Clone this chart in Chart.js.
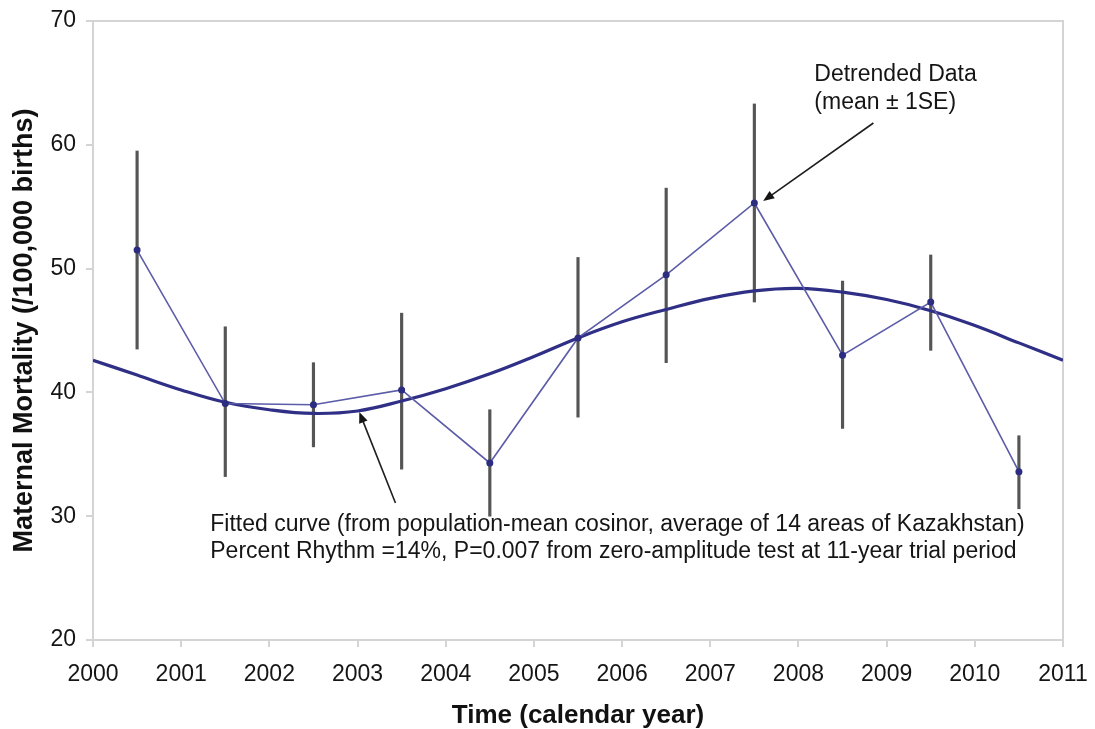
<!DOCTYPE html>
<html lang="en">
<head>
    <meta charset="UTF-8">
    <title>Maternal Mortality, Kazakhstan</title>
    <script src="https://cdn.jsdelivr.net/npm/chart.js"></script>
    <style>
        html, body { margin: 0; padding: 0; background: #fff; }
        #wrap { width: 1095px; height: 729px; }
    </style>
</head>
<body>
    <div id="wrap"><canvas id="chart" width="1095" height="729"></canvas></div>
    <script>
        // detrended data (mean +/- 1SE), plotted at mid-year
        const years = [2000.5, 2001.5, 2002.5, 2003.5, 2004.5, 2005.5, 2006.5, 2007.5, 2008.5, 2009.5, 2010.5];
        const meanValues = [51.5, 39.1, 39.0, 40.2, 34.3, 44.4, 49.5, 55.3, 43.0, 47.3, 33.6];
        const seLow = [43.5, 33.2, 35.6, 33.8, 30.0, 38.0, 42.4, 47.3, 37.1, 43.4, 30.6];
        const seHigh = [59.5, 45.3, 42.4, 46.4, 38.6, 50.9, 56.5, 63.3, 49.0, 51.1, 36.5];

        const curveYears = [2000, 2000.5, 2001, 2001.5, 2002, 2002.5, 2003, 2003.5, 2004, 2004.5, 2005, 2005.5,
                            2006, 2006.5, 2007, 2007.5, 2008, 2008.5, 2009, 2009.5, 2010, 2010.5, 2011];
        const curveValues = [42.6, 41.4, 40.2, 39.2, 38.6, 38.3, 38.5, 39.3, 40.3, 41.5, 42.9, 44.4,
                             45.7, 46.7, 47.6, 48.2, 48.4, 48.1, 47.5, 46.6, 45.4, 44.0, 42.6];

        const xTicks = [2000, 2001, 2002, 2003, 2004, 2005, 2006, 2007, 2008, 2009, 2010, 2011];
        const yTicks = [20, 30, 40, 50, 60, 70];

        const FONT = "'Liberation Sans', Arial, Helvetica, sans-serif";
        const AXIS_GRAY = '#d4d4d4';
        const INK = '#151515';

        // light box round the plot area (left/bottom come from the axes)
        const framePlugin = {
            id: 'frame',
            beforeDatasetsDraw(chart) {
                const { ctx, chartArea: a } = chart;
                ctx.save();
                ctx.strokeStyle = AXIS_GRAY;
                ctx.lineWidth = 2;
                ctx.beginPath();
                ctx.moveTo(a.left, a.top);
                ctx.lineTo(a.right, a.top);
                ctx.lineTo(a.right, a.bottom);
                ctx.stroke();
                ctx.restore();
            }
        };

        function arrow(ctx, x1, y1, x2, y2) {
            const ang = Math.atan2(y2 - y1, x2 - x1);
            const len = 11, half = 4.5;
            ctx.beginPath();
            ctx.moveTo(x1, y1);
            ctx.lineTo(x2 - Math.cos(ang) * len * 0.7, y2 - Math.sin(ang) * len * 0.7);
            ctx.stroke();
            ctx.beginPath();
            ctx.moveTo(x2, y2);
            ctx.lineTo(x2 - Math.cos(ang) * len + Math.sin(ang) * half, y2 - Math.sin(ang) * len - Math.cos(ang) * half);
            ctx.lineTo(x2 - Math.cos(ang) * len - Math.sin(ang) * half, y2 - Math.sin(ang) * len + Math.cos(ang) * half);
            ctx.closePath();
            ctx.fill();
        }

        const notesPlugin = {
            id: 'notes',
            afterDraw(chart) {
                const { ctx } = chart;
                const x = chart.scales.x, y = chart.scales.y;
                const px = v => x.getPixelForValue(v), py = v => y.getPixelForValue(v);
                ctx.save();
                ctx.fillStyle = INK;
                ctx.strokeStyle = '#1e1e1e';
                ctx.font = '23px ' + FONT;
                ctx.textBaseline = 'middle';
                ctx.textAlign = 'left';
                ctx.fillText('Detrended Data', px(2008.18), py(65.64));
                ctx.fillText('(mean \u00b1 1SE)', px(2008.18), py(63.38));
                ctx.fillText('Fitted curve (from population-mean cosinor, average of 14 areas of Kazakhstan)', px(2001.33), py(29.29));
                ctx.fillText('Percent Rhythm =14%, P=0.007 from zero-amplitude test at 11-year trial period', px(2001.33), py(27.11));
                ctx.lineWidth = 1.6;
                arrow(ctx, px(2008.85), py(61.76), px(2007.6), py(55.46));
                arrow(ctx, px(2003.43), py(31.07), px(2003.02), py(38.42));
                ctx.restore();
            }
        };

        new Chart(document.getElementById('chart'), {
            data: {
                datasets: [
                    {
                        type: 'line',
                        label: 'Detrended Data',
                        data: years.map((v, i) => ({ x: v, y: meanValues[i] })),
                        borderColor: '#5c5ca8',
                        borderWidth: 1.6,
                        pointRadius: 3.5,
                        pointBackgroundColor: '#2c2c80',
                        pointBorderWidth: 0,
                        tension: 0,
                        order: 1
                    },
                    {
                        type: 'line',
                        label: 'Fitted curve',
                        data: curveYears.map((v, i) => ({ x: v, y: curveValues[i] })),
                        borderColor: '#2f2f86',
                        borderWidth: 3.2,
                        pointRadius: 0,
                        tension: 0.4,
                        order: 2
                    },
                    {
                        type: 'bar',
                        label: 'SE',
                        data: years.map((v, i) => ({ x: v, y: [seLow[i], seHigh[i]] })),
                        backgroundColor: '#555555',
                        barThickness: 2.5,
                        order: 3
                    }
                ]
            },
            options: {
                responsive: false,
                animation: false,
                layout: { padding: { left: 0, right: 32, top: 21, bottom: 0 } },
                plugins: { legend: { display: false }, tooltip: { enabled: false } },
                scales: {
                    x: {
                        type: 'linear',
                        min: 2000,
                        max: 2011,
                        offset: false,
                        afterBuildTicks: s => { s.ticks = xTicks.map(v => ({ value: v })); },
                        afterFit: s => { s.height = 89; s.paddingLeft = 0; s.paddingRight = 0; },
                        ticks: { callback: v => String(v), color: INK, padding: 14, maxRotation: 0,
                                 font: { family: FONT, size: 23 } },
                        grid: { offset: false, drawOnChartArea: false, drawTicks: true, tickLength: 7, color: AXIS_GRAY, lineWidth: 2 },
                        border: { color: AXIS_GRAY, width: 2 },
                        title: { display: true, text: 'Time (calendar year)', color: '#111',
                                 font: { family: FONT, size: 26, weight: 'bold', lineHeight: 1 }, padding: 0 }
                    },
                    y: {
                        min: 20,
                        max: 70,
                        afterBuildTicks: s => { s.ticks = yTicks.map(v => ({ value: v })); },
                        afterFit: s => { s.width = 93; s.paddingTop = 0; s.paddingBottom = 0; },
                        ticks: { color: INK, padding: 10, font: { family: FONT, size: 23 } },
                        grid: { drawOnChartArea: false, drawTicks: true, tickLength: 7, color: AXIS_GRAY, lineWidth: 2 },
                        border: { color: AXIS_GRAY, width: 2 },
                        title: { display: true, text: 'Maternal Mortality (/100,000 births)', color: '#111',
                                 font: { family: FONT, size: 27, weight: 'bold', lineHeight: 1 }, padding: { top: 11, bottom: 0 } }
                    }
                }
            },
            plugins: [framePlugin, notesPlugin]
        });
    </script>
</body>
</html>
